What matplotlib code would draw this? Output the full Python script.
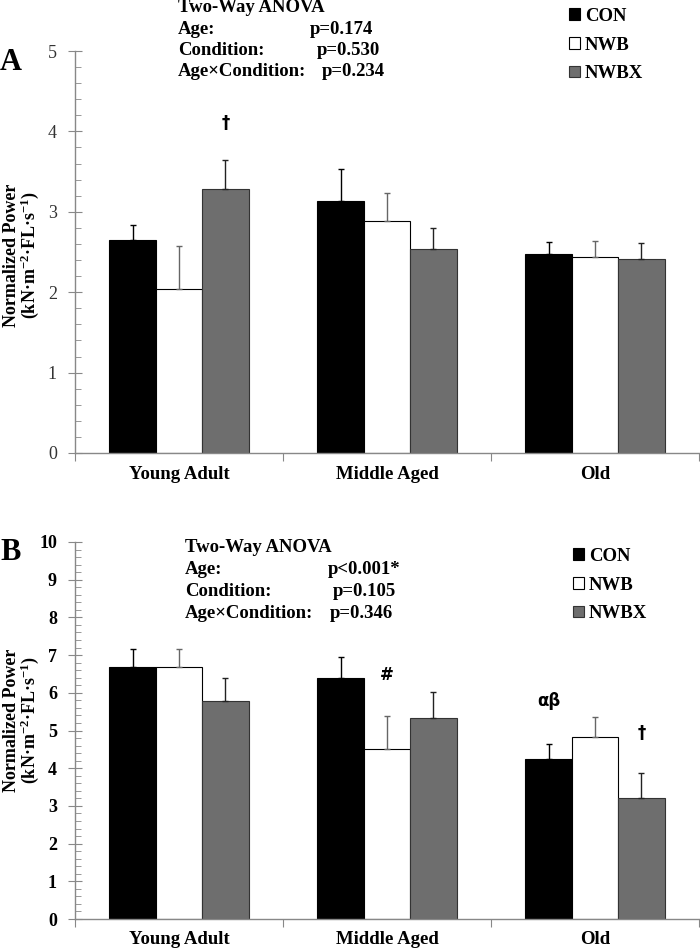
import numpy as np
import matplotlib
matplotlib.use("Agg")
import matplotlib.pyplot as plt
from matplotlib.patches import Patch

plt.rcParams['font.family'] = ['Liberation Serif', 'DejaVu Serif']
plt.rcParams['mathtext.fontset'] = 'custom'
plt.rcParams['mathtext.rm'] = 'Liberation Serif:bold'
plt.rcParams['mathtext.it'] = 'Liberation Serif:bold'
plt.rcParams['mathtext.bf'] = 'Liberation Serif:bold'

groups = ['Young Adult', 'Middle Aged', 'Old']
conditions = ['CON', 'NWB', 'NWBX']

# panel A
a_mean = {'CON': [2.65, 3.14, 2.47], 'NWB': [2.04, 2.89, 2.44], 'NWBX': [3.28, 2.54, 2.41]}
a_err = {'CON': [0.18, 0.39, 0.15], 'NWB': [0.54, 0.35, 0.20], 'NWBX': [0.37, 0.26, 0.20]}
a_stats = [('Age:', 'p=0.174'), ('Condition:', 'p=0.530'), ('Age\u00d7Condition:', 'p=0.234')]

# panel B
b_mean = {'CON': [6.68, 6.40, 4.24], 'NWB': [6.68, 4.51, 4.84], 'NWBX': [5.78, 5.33, 3.21]}
b_err = {'CON': [0.47, 0.56, 0.41], 'NWB': [0.47, 0.87, 0.53], 'NWBX': [0.60, 0.68, 0.66]}
b_stats = [('Age:', 'p<0.001*'), ('Condition:', 'p=0.105'), ('Age\u00d7Condition:', 'p=0.346')]

colors = {'CON': 'black', 'NWB': 'white', 'NWBX': '#6e6e6e'}
edges = {'CON': 'black', 'NWB': 'black', 'NWBX': '#333333'}
ecolors = {'CON': 'black', 'NWB': '#666666', 'NWBX': '#222222'}

W, H = 700, 951
FS = 13.5
fig = plt.figure(figsize=(7, 9.51), dpi=100)


def fx(px):
    return px / W


def fy(py):
    return 1 - py / H


def panel(rect, means, errs, ymax, bold_ticks):
    ax = fig.add_axes(rect)
    x = np.arange(len(groups))
    width = 0.223
    handles = []
    for i, c in enumerate(conditions):
        yerr = [np.zeros(3), errs[c]]
        ax.bar(x + (i - 1) * width, means[c], width, color=colors[c], edgecolor=edges[c],
               linewidth=0.8, yerr=yerr,
               error_kw=dict(ecolor=ecolors[c], elinewidth=1.0, capsize=2.2, capthick=1.0))
        handles.append(Patch(facecolor=colors[c], edgecolor=edges[c], linewidth=0.8))
    ax.set_xlim(-0.5, 2.5)
    ax.set_ylim(0, ymax)
    for s in ['top', 'right']:
        ax.spines[s].set_visible(False)
    for s in ['left', 'bottom']:
        ax.spines[s].set_color('#888888')
        ax.spines[s].set_linewidth(1.0)
    ax.set_yticks(np.arange(0, ymax + 0.5, 1))
    ax.set_yticks(np.arange(0, ymax + 0.01, 0.2), minor=True)
    ax.tick_params(axis='y', which='major', direction='inout', length=10, color='#888888',
                   labelsize=13, pad=8)
    ax.tick_params(axis='y', which='minor', direction='in', length=4, color='#888888')
    ax.set_xticks([-0.5, 0.5, 1.5, 2.5])
    ax.set_xticklabels([])
    ax.tick_params(axis='x', which='major', direction='out', length=6, color='#888888')
    for lab in ax.get_yticklabels():
        if bold_ticks:
            lab.set_fontweight('bold')
            lab.set_color('black')
        else:
            lab.set_color('#333333')
    for i, g in enumerate(groups):
        ax.text(i, -0.033 * ymax, g, ha='center', va='top', fontsize=FS, fontweight='bold')
    return ax, handles


def mark(ax, x, y, s):
    ax.text(x, y, s, ha='center', va='center', fontsize=12, fontweight='bold',
            family='DejaVu Sans')


ylab2 = '(kN\u00b7m$^{-2}$\u00b7FL\u00b7s$^{-1}$)'
leg_kw = dict(loc='upper left', frameon=False, handlelength=0.6, handleheight=0.6,
              handletextpad=0.25, labelspacing=0.62, prop={'weight': 'bold', 'size': FS})

# panel A
axA, hA = panel([fx(75), fy(453), fx(624), fy(51) - fy(453)], a_mean, a_err, 5, False)
mark(axA, 0.223, 4.1, '\u2020')
fig.text(fx(0), fy(62), 'A', fontsize=22, fontweight='bold', va='center', ha='left')
fig.text(fx(178), fy(8), 'Two-Way ANOVA', fontsize=FS, fontweight='bold', va='center')
for k, (lab, p) in enumerate(a_stats):
    fig.text(fx(178), fy(29 + 21.5 * k), lab, fontsize=FS, fontweight='bold', va='center')
fig.text(fx(310), fy(29), a_stats[0][1], fontsize=FS, fontweight='bold', va='center')
fig.text(fx(317), fy(50.5), a_stats[1][1], fontsize=FS, fontweight='bold', va='center')
fig.text(fx(322), fy(72), a_stats[2][1], fontsize=FS, fontweight='bold', va='center')
fig.legend(hA, conditions, bbox_to_anchor=(fx(552), fy(-9)), **leg_kw)
fig.text(fx(12), fy(255), 'Normalized Power', rotation=90, fontsize=13, fontweight='bold',
         ha='center', va='center')
fig.text(fx(30), fy(255), ylab2, rotation=90, fontsize=13,
         fontweight='bold', ha='center', va='center')

# panel B
axB, hB = panel([fx(75), fy(919), fx(624), fy(542) - fy(919)], b_mean, b_err, 10, True)
mark(axB, 1, 6.47, '#')
mark(axB, 2 - 0.223, 5.78, '\u03b1\u03b2')
mark(axB, 2 + 0.223, 4.93, '\u2020')
fig.text(fx(0), fy(552), 'B', fontsize=22, fontweight='bold', va='center', ha='left')
fig.text(fx(185), fy(548), 'Two-Way ANOVA', fontsize=FS, fontweight='bold', va='center')
for k, (lab, p) in enumerate(b_stats):
    fig.text(fx(185), fy(570 + 21.5 * k), lab, fontsize=FS, fontweight='bold', va='center')
fig.text(fx(328), fy(570), b_stats[0][1], fontsize=FS, fontweight='bold', va='center')
fig.text(fx(333), fy(591.5), b_stats[1][1], fontsize=FS, fontweight='bold', va='center')
fig.text(fx(330), fy(613), b_stats[2][1], fontsize=FS, fontweight='bold', va='center')
fig.legend(hB, conditions, bbox_to_anchor=(fx(556), fy(531)), **leg_kw)
fig.text(fx(12), fy(720), 'Normalized Power', rotation=90, fontsize=13, fontweight='bold',
         ha='center', va='center')
fig.text(fx(30), fy(720), ylab2, rotation=90, fontsize=13,
         fontweight='bold', ha='center', va='center')

fig.savefig('out.png', dpi=100)
